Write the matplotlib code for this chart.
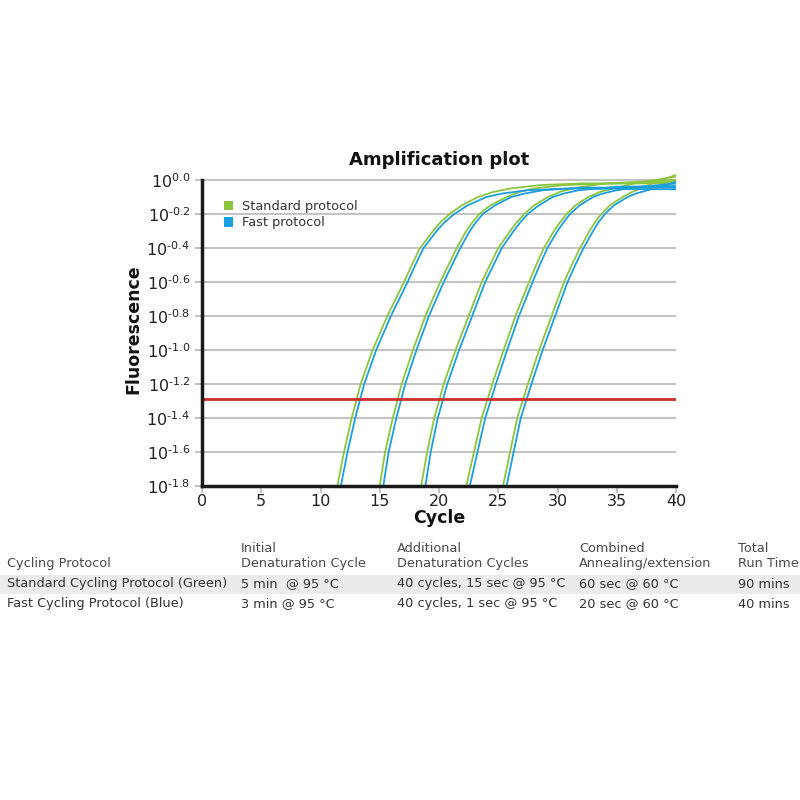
import matplotlib
matplotlib.use("Agg")
import matplotlib.pyplot as plt
from matplotlib.patches import Patch, Rectangle
from matplotlib.ticker import FixedLocator, NullLocator
import numpy as np

# ---------------- data ----------------
# log10 fluorescence levels and the cycle at which each curve reaches them
std1_cyc = [11.15, 11.42, 11.98, 12.63, 13.39, 14.4, 15.64, 17.05, 17.7, 18.4, 19.5, 20.1, 20.9, 21.9, 23.3, 24.6, 26.0, 28.5, 32.0, 40.0]
std1_log = [-1.95, -1.8, -1.6, -1.4, -1.2, -1.0, -0.8, -0.6, -0.5, -0.4, -0.3, -0.25, -0.2, -0.15, -0.1, -0.07, -0.05, -0.03, -0.02, -0.02]
std2_cyc = [14.6, 15.0, 15.45, 16.1, 16.85, 17.8, 18.85, 20.1, 20.8, 21.5, 22.3, 22.8, 23.4, 24.3, 25.7, 26.8, 28.0, 30.5, 40.0]
std2_log = [-1.95, -1.8, -1.6, -1.4, -1.2, -1.0, -0.8, -0.6, -0.5, -0.4, -0.3, -0.25, -0.2, -0.15, -0.1, -0.07, -0.05, -0.03, -0.01]
std3_cyc = [18.1, 18.5, 19.0, 19.6, 20.4, 21.4, 22.5, 23.6, 24.3, 25.0, 26.0, 26.55, 27.2, 28.0, 29.2, 30.2, 31.3, 34.0, 40.0]
std3_log = [-1.95, -1.8, -1.6, -1.4, -1.2, -1.0, -0.8, -0.6, -0.5, -0.4, -0.3, -0.25, -0.2, -0.15, -0.1, -0.07, -0.05, -0.02, 0.0]
std4_cyc = [21.9, 22.3, 22.95, 23.6, 24.5, 25.45, 26.45, 27.6, 28.2, 28.85, 29.7, 30.2, 30.75, 31.5, 32.6, 33.6, 34.7, 36.5, 40.0]
std4_log = [-1.95, -1.8, -1.6, -1.4, -1.2, -1.0, -0.8, -0.6, -0.5, -0.4, -0.3, -0.25, -0.2, -0.15, -0.1, -0.07, -0.05, -0.02, 0.02]
std5_cyc = [25.0, 25.4, 26.0, 26.6, 27.5, 28.45, 29.5, 30.55, 31.2, 31.9, 32.7, 33.15, 33.7, 34.4, 35.5, 36.3, 37.0, 38.0, 39.2, 40.0]
std5_log = [-1.95, -1.8, -1.6, -1.4, -1.2, -1.0, -0.8, -0.6, -0.5, -0.4, -0.3, -0.25, -0.2, -0.15, -0.1, -0.07, -0.05, -0.02, 0.01, 0.03]

fast1_cyc = [11.45, 11.72, 12.28, 12.93, 13.69, 14.7, 15.94, 17.35, 18.0, 18.7, 19.8, 20.45, 21.3, 22.4, 24.0, 25.3, 27.5, 31.0, 40.0]
fast1_log = [-1.95, -1.8, -1.6, -1.4, -1.2, -1.0, -0.8, -0.6, -0.5, -0.4, -0.3, -0.25, -0.2, -0.15, -0.1, -0.08, -0.06, -0.05, -0.055]
fast2_cyc = [14.9, 15.3, 15.75, 16.4, 17.15, 18.1, 19.15, 20.4, 21.1, 21.8, 22.6, 23.1, 23.7, 24.7, 26.1, 27.2, 28.8, 32.0, 40.0]
fast2_log = [-1.95, -1.8, -1.6, -1.4, -1.2, -1.0, -0.8, -0.6, -0.5, -0.4, -0.3, -0.25, -0.2, -0.15, -0.1, -0.08, -0.06, -0.045, -0.045]
fast3_cyc = [18.4, 18.85, 19.3, 19.9, 20.7, 21.7, 22.8, 23.9, 24.6, 25.3, 26.3, 26.85, 27.5, 28.4, 29.6, 30.5, 31.8, 35.0, 40.0]
fast3_log = [-1.95, -1.8, -1.6, -1.4, -1.2, -1.0, -0.8, -0.6, -0.5, -0.4, -0.3, -0.25, -0.2, -0.15, -0.1, -0.08, -0.06, -0.04, -0.035]
fast4_cyc = [22.2, 22.6, 23.25, 23.9, 24.8, 25.75, 26.75, 27.9, 28.5, 29.15, 30.0, 30.5, 31.05, 31.85, 33.0, 33.8, 35.0, 37.0, 40.0]
fast4_log = [-1.95, -1.8, -1.6, -1.4, -1.2, -1.0, -0.8, -0.6, -0.5, -0.4, -0.3, -0.25, -0.2, -0.15, -0.1, -0.08, -0.06, -0.04, -0.02]
fast5_cyc = [25.3, 25.7, 26.3, 26.9, 27.8, 28.75, 29.8, 30.85, 31.5, 32.2, 33.0, 33.45, 34.0, 34.75, 35.9, 36.6, 37.6, 38.7, 40.0]
fast5_log = [-1.95, -1.8, -1.6, -1.4, -1.2, -1.0, -0.8, -0.6, -0.5, -0.4, -0.3, -0.25, -0.2, -0.15, -0.1, -0.08, -0.06, -0.04, -0.01]

threshold_log = -1.29
ytick_exps = [0.0, -0.2, -0.4, -0.6, -0.8, -1.0, -1.2, -1.4, -1.6, -1.8]
ytick_labels = ["0.0", "-0.2", "-0.4", "-0.6", "-0.8", "-1.0", "-1.2", "-1.4", "-1.6", "-1.8"]
xticks = [0, 5, 10, 15, 20, 25, 30, 35, 40]
series_names = ["Standard protocol", "Fast protocol"]

table_header = ["Cycling Protocol", "Initial\nDenaturation Cycle", "Additional\nDenaturation Cycles",
                "Combined\nAnnealing/extension", "Total\nRun Time"]
table_row1 = ["Standard Cycling Protocol (Green)", "5 min  @ 95 °C", "40 cycles, 15 sec @ 95 °C",
              "60 sec @ 60 °C", "90 mins"]
table_row2 = ["Fast Cycling Protocol (Blue)", "3 min @ 95 °C", "40 cycles, 1 sec @ 95 °C",
              "20 sec @ 60 °C", "40 mins"]

# ---------------- styling ----------------
GREEN = "#8cc63f"
BLUE = "#1b9fdc"
RED = "#cc2f2a"
GRID = "#c4c4c4"

plt.rcParams["font.family"] = ["DejaVu Sans"]
fig = plt.figure(figsize=(8, 8), dpi=100)
fig.patch.set_facecolor("white")

W, H = 800.0, 800.0
ymin_exp, ymax_exp = -1.8, 0.05
x0_px, x1_px = 202, 676
ybot_px = 486
ytop_px = 180 - 0.05 * 170
ax = fig.add_axes([x0_px / W, 1 - ybot_px / H, (x1_px - x0_px) / W, (ybot_px - ytop_px) / H])

ax.set_yscale("log")
ax.set_xlim(0, 40)
ax.set_ylim(10 ** ymin_exp, 10 ** ymax_exp)

std = [(std1_cyc, std1_log), (std2_cyc, std2_log), (std3_cyc, std3_log), (std4_cyc, std4_log), (std5_cyc, std5_log)]
fast = [(fast1_cyc, fast1_log), (fast2_cyc, fast2_log), (fast3_cyc, fast3_log), (fast4_cyc, fast4_log), (fast5_cyc, fast5_log)]

for c, l in std:
    ax.plot(c, 10 ** np.asarray(l), color=GREEN, lw=1.3, zorder=3, solid_joinstyle="round")
for c, l in fast:
    ax.plot(c, 10 ** np.asarray(l), color=BLUE, lw=1.3, zorder=3, solid_joinstyle="round")

ax.axhline(10 ** threshold_log, color=RED, lw=2.0, zorder=4)

# grid
for e in ytick_exps:
    ax.axhline(10 ** e, color=GRID, lw=1.5, zorder=1)

ax.yaxis.set_major_locator(FixedLocator([10 ** e for e in ytick_exps]))
ax.yaxis.set_minor_locator(NullLocator())
ax.set_yticklabels([r"$10^{\text{%s}}$" % s for s in ytick_labels])
ax.set_xticks(xticks)
ax.set_xticklabels([str(x) for x in xticks])

for s in ["top", "right"]:
    ax.spines[s].set_visible(False)
for s in ["left", "bottom"]:
    ax.spines[s].set_linewidth(2.5)
    ax.spines[s].set_color("#1a1a1a")
    ax.spines[s].set_zorder(5)
ax.spines["left"].set_bounds(10 ** ymin_exp, 10 ** 0.0)

ax.tick_params(axis="both", colors=GRID, length=5, width=1.5, labelcolor="#222222", labelsize=11.5)
ax.tick_params(axis="x", pad=1)

ax.set_title("Amplification plot", fontsize=13, fontweight="bold", pad=5, color="#111111")
ax.set_xlabel("Cycle", fontsize=12.5, fontweight="bold", labelpad=0, color="#111111")
ax.set_ylabel("Fluorescence", fontsize=12.5, fontweight="bold", labelpad=3, color="#111111")

handles = [Patch(facecolor=GREEN, edgecolor="none"), Patch(facecolor=BLUE, edgecolor="none")]
leg = ax.legend(handles, series_names, loc="upper left", bbox_to_anchor=(0.035, 0.925), frameon=False,
                fontsize=9.3, handlelength=0.75, handleheight=0.75, handletextpad=0.7, labelspacing=0.25,
                borderaxespad=0.0)
for t in leg.get_texts():
    t.set_color("#333333")

# ---------------- table ----------------
col_x = [7, 241, 397, 579, 738]
fig.patches.append(Rectangle((0, 1 - 594 / H), 1.0, 19 / H, transform=fig.transFigure,
                             facecolor="#ebebeb", edgecolor="none", zorder=0))
for xp, txt in zip(col_x, table_header):
    fig.text(xp / W, 1 - 570 / H, txt, ha="left", va="bottom", fontsize=9.3, color="#4a4a4a",
             linespacing=1.2)
for xp, txt in zip(col_x, table_row1):
    fig.text(xp / W, 1 - 584 / H, txt, ha="left", va="center", fontsize=9.3, color="#333333")
for xp, txt in zip(col_x, table_row2):
    fig.text(xp / W, 1 - 604 / H, txt, ha="left", va="center", fontsize=9.3, color="#333333")

fig.savefig("out.png", dpi=100, facecolor="white")
